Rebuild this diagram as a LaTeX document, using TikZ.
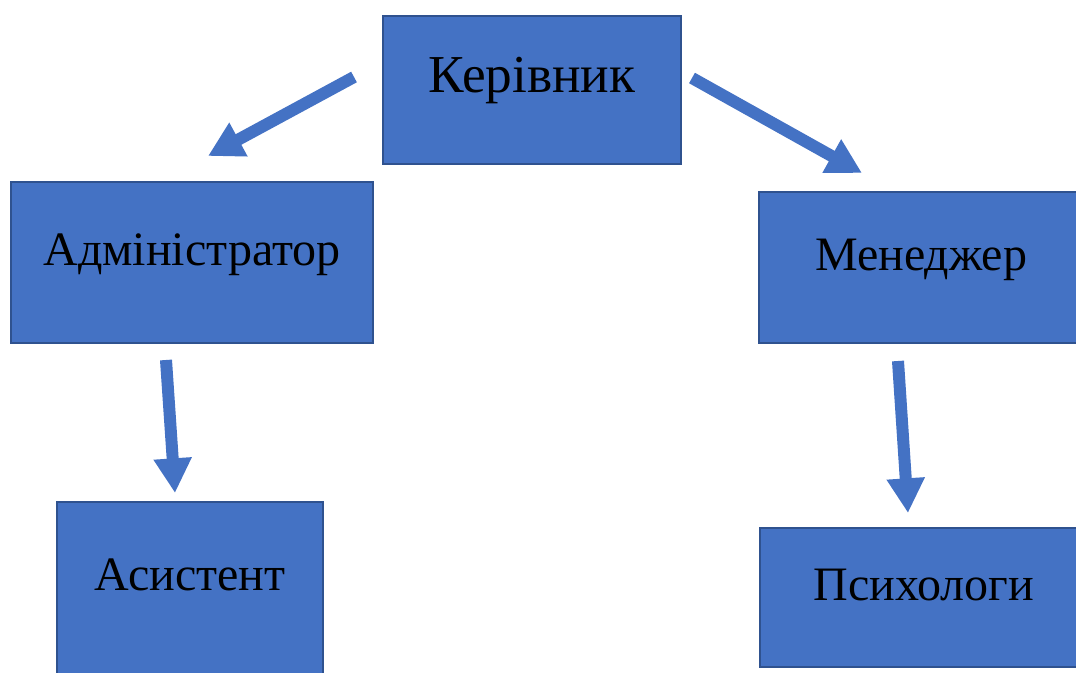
\documentclass[tikz,border=0pt]{standalone}
\usepackage{fontspec}
\setmainfont{Liberation Serif}
\usetikzlibrary{arrows.meta}
\definecolor{boxfill}{HTML}{4472C4}
\definecolor{boxline}{HTML}{2F528F}
\tikzset{
  post/.style 2 args={draw=boxline,fill=boxfill,line width=1.8pt,
    minimum width=#1*0.75pt,minimum height=#2*0.75pt,inner sep=0pt,
    font=\fontsize{36}{42}\selectfont,text height=0.72em,text depth=0.28em},
  link/.style={draw=boxfill,line width=9pt,-{Triangle[width=27pt,length=26pt]}}
}
\begin{document}
\begin{tikzpicture}[x=0.75pt,y=-0.75pt]
\useasboundingbox (0,0) rectangle (1076,673);
\node[post={298}{148},font=\fontsize{40}{46}\selectfont] (kerivnyk) at (532,90) {Керівник};
\node[post={362}{161}] (admin) at (192,262.5) {Адміністратор};
\node[post={324}{151}] (menedzher) at (921,267.5) {Менеджер};
\node[post={266}{172}] (asystent) at (190,588) {Асистент};
\node[post={328}{139}] (psykholohy) at (924,597.5) {Психологи};
\coordinate (ka) at (354,77);   \coordinate (ak) at (208,156);
\coordinate (km) at (692,78);   \coordinate (mk) at (862,173);
\coordinate (as) at (166,360);  \coordinate (sa) at (175,493);
\coordinate (mp) at (898,361);  \coordinate (pm) at (908,513);
\draw[link] (ka) -- (ak);
\draw[link] (km) -- (mk);
\draw[link] (as) -- (sa);
\draw[link] (mp) -- (pm);
\end{tikzpicture}
\end{document}
